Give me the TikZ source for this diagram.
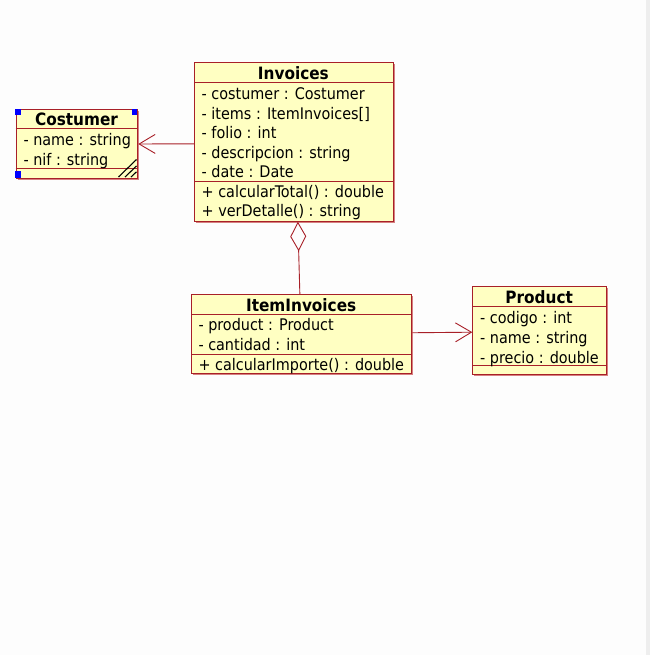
\documentclass[tikz,border=0pt]{standalone}
\usepackage{fontspec}
\newfontfamily\umlfont{DejaVu Sans Condensed}
\usetikzlibrary{arrows.meta,shadows}
\definecolor{umlred}{RGB}{168,32,40}
\definecolor{umlpink}{RGB}{214,128,128}
\definecolor{umlfill}{RGB}{255,255,194}
\definecolor{bgcol}{RGB}{253,253,253}
\definecolor{barcol}{RGB}{238,238,238}
\tikzset{
  cls/.style={draw=umlred, fill=umlfill, line width=1pt, inner sep=0pt, anchor=north west,
    drop shadow={shadow xshift=1.3pt, shadow yshift=-1.3pt, fill=umlpink, opacity=1}},
  sepline/.style={draw=umlred, line width=1pt},
  txt/.style={anchor=base west, inner sep=0pt, font=\umlfont\fontsize{16}{19}\selectfont},
  ttl/.style={anchor=base, inner sep=0pt, font=\umlfont\bfseries\fontsize{17}{19}\selectfont},
  assoc/.style={draw=umlred, line width=0.9pt, -{Straight Barb[length=16pt,width=19pt]}},
  aggr/.style={draw=umlred, line width=0.9pt, -{Diamond[open,length=29.5pt,width=16pt]}},
  handle/.style={fill=blue, draw=none},
  hatch/.style={draw=black, line width=1.1pt},
}
\begin{document}
\begin{tikzpicture}[x=1pt,y=-1pt]
\useasboundingbox (0,0) rectangle (650,655);
\fill[bgcol] (0,0) rectangle (650,655);
\fill[barcol] (646,0) rectangle (650,655);

% Invoices
\node[cls, minimum width=198.7pt, minimum height=158.4pt] (inv) at (194,62.3) {};
\draw[sepline] (194,82.3) -- (392.7,82.3);
\draw[sepline] (194,181.7) -- (392.7,181.7);
\node[ttl] (invt) at (293.4,80) {Invoices};
\node[txt] (inva1) at (201.5,99.3) {- costumer : Costumer};
\node[txt] (inva2) at (201.5,119.1) {- items : ItemInvoices[]};
\node[txt] (inva3) at (201.5,138.9) {- folio : int};
\node[txt] (inva4) at (201.5,158.7) {- descripcion : string};
\node[txt] (inva5) at (201.5,178) {- date : Date};
\node[txt] (invm1) at (201.5,197.7) {+ calcularTotal() : double};
\node[txt] (invm2) at (201.5,216.9) {+ verDetalle() : string};

% Costumer
\node[cls, minimum width=121.6pt, minimum height=68.4pt] (cos) at (15.7,109.3) {};
\draw[sepline] (15.7,129) -- (137.3,129);
\draw[sepline] (15.7,168.3) -- (137.3,168.3);
\node[ttl] (cost) at (76.5,125.7) {Costumer};
\node[txt] (cosa1) at (23.3,146) {- name : string};
\node[txt] (cosa2) at (23.3,165.7) {- nif : string};
\fill[handle] (15.2,108.8) rectangle (21.2,114.8);
\fill[handle] (131.8,108.8) rectangle (137.3,114.8);
\fill[handle] (15.2,171.2) rectangle (21.2,177.7);
\draw[hatch] (118.5,177) -- (136.5,159.5);
\draw[hatch] (125,177) -- (136.5,166);
\draw[hatch] (131,177) -- (136.5,171.8);

% ItemInvoices
\node[cls, minimum width=220.3pt, minimum height=79.3pt] (item) at (191,294) {};
\draw[sepline] (191,314) -- (411.3,314);
\draw[sepline] (191,354) -- (411.3,354);
\node[ttl] (itemt) at (301.2,311) {ItemInvoices};
\node[txt] (itema1) at (198.3,330.7) {- product : Product};
\node[txt] (itema2) at (198.3,350.7) {- cantidad : int};
\node[txt] (itemm1) at (198.3,370) {+ calcularImporte() : double};

% Product
\node[cls, minimum width=133.7pt, minimum height=88pt] (prod) at (472.3,286.3) {};
\draw[sepline] (472.3,306.3) -- (606,306.3);
\draw[sepline] (472.3,365.3) -- (606,365.3);
\node[ttl] (prodt) at (539.2,303.3) {Product};
\node[txt] (proda1) at (480,323.3) {- codigo : int};
\node[txt] (proda2) at (480,343) {- name : string};
\node[txt] (proda3) at (480,363.3) {- precio : double};

% connectors
\draw[assoc] ([yshift=-1.8pt]inv.west) -- (cos.east);
\draw[assoc] ([yshift=1.4pt]item.east) -- ([yshift=-1.4pt]prod.west);
\draw[aggr] ([xshift=-1.8pt]item.north) -- ([xshift=4pt]inv.south);
\end{tikzpicture}
\end{document}
